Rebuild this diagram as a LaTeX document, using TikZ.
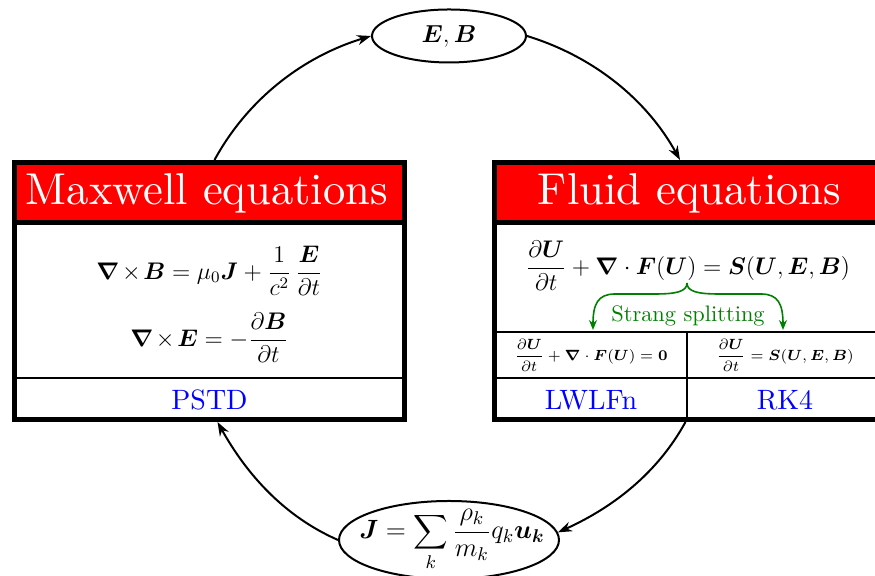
\documentclass[tikz,border=0pt]{standalone}
\usepackage{fix-cm}
\usepackage{amsmath,bm}
\usepackage{fontspec}
\setmainfont{lmroman10-regular.otf}
\usetikzlibrary{arrows.meta,shapes.geometric}
\newcommand{\tcross}{\mathord{\mkern2mu\times\mkern2mu}}
\begin{document}
\begin{tikzpicture}[x=0.5pt,y=0.5pt,
  bigbox/.style={draw, line width=2.5pt, rectangle, inner sep=0pt, minimum width=195pt, minimum height=128.5pt},
  hdr/.style={text=white, font=\fontsize{22.3}{26}\selectfont, anchor=base, inner sep=0pt},
  eqn/.style={font=\fontsize{12}{14}\selectfont, inner sep=0pt},
  method/.style={text=blue, font=\fontsize{14}{17}\selectfont, anchor=base, inner sep=0pt},
  subeqn/.style={font=\fontsize{7.4}{9}\selectfont, inner sep=0pt},
  thinrule/.style={line width=1pt},
  thickrule/.style={line width=2.5pt},
  oval/.style={draw, ellipse, line width=1pt, inner sep=0pt},
  link/.style={line width=1pt, -{Stealth[length=7pt,width=5pt]}, looseness=0.9},
  split/.style={draw=green!50!black, line width=0.8pt, -{Stealth[length=5pt,width=4pt]}},
  splittext/.style={text=green!50!black, font=\fontsize{11.2}{13}\selectfont, anchor=base, inner sep=0pt}]
\useasboundingbox (0,0) rectangle (875,576);
\clip (0,0) rectangle (875,576);

% ---------------- Maxwell box ----------------
\fill[red] (14.5,413.5) rectangle (404.5,353.5);
\node[bigbox] (mx) at (209.5,285) {};
\draw[thickrule] (mx.west |- 0,353.5) -- (mx.east |- 0,353.5);
\draw[thinrule] (mx.west |- 0,198) -- (mx.east |- 0,198);
\node[hdr] (mxt) at (207,371) {Maxwell equations};
\node[eqn] (mxa) at (209.5,305) {$\displaystyle \bm{\nabla}\tcross\bm{B} = \mu_0\bm{J} + \frac{1}{c^2}\,\frac{\bm{E}}{\partial t}$};
\node[eqn] (mxb) at (209.5,238) {$\displaystyle \bm{\nabla}\tcross\bm{E} = -\frac{\partial\bm{B}}{\partial t}$};
\node[method] (pstd) at (209.5,166) {PSTD};

% ---------------- Fluid box ----------------
\fill[red] (494.5,413.5) rectangle (884.5,353.5);
\node[bigbox] (fl) at (689.5,285) {};
\draw[thickrule] (fl.west |- 0,353.5) -- (fl.east |- 0,353.5);
\draw[thinrule] (fl.west |- 0,244) -- (fl.east |- 0,244);
\draw[thinrule] (fl.west |- 0,198) -- (fl.east |- 0,198);
\coordinate (divtop) at (687,244);
\draw[thinrule] (divtop) -- (divtop |- fl.south);
\node[hdr] (flt) at (689.5,371) {Fluid equations};
\node[eqn] (fla) at (688,310) {$\displaystyle \frac{\partial\bm{U}}{\partial t} + \bm{\nabla}\cdot\bm{F}(\bm{U}) = \bm{S}(\bm{U},\bm{E},\bm{B})$};
\node[subeqn] (flb) at (591,220.5) {$\displaystyle \frac{\partial\bm{U}}{\partial t} + \bm{\nabla}\cdot\bm{F}(\bm{U}) = \bm{0}$};
\node[subeqn] (flc) at (785,220.5) {$\displaystyle \frac{\partial\bm{U}}{\partial t} = \bm{S}(\bm{U},\bm{E},\bm{B})$};
\node[method] (lw) at (591,166) {LWLFn};
\node[method] (rk) at (785,166) {RK4};

% Strang splitting brace
\coordinate (peak) at (687,293);
\coordinate (ltip) at (593,246);
\coordinate (rtip) at (783,246);
\draw[split] (peak) .. controls (687,284) and (675,282) .. (655,282) -- (615,282) .. controls (598,282) and (593,272) .. (ltip);
\draw[split] (peak) .. controls (687,284) and (699,282) .. (719,282) -- (761,282) .. controls (778,282) and (783,272) .. (rtip);
\node[splittext] (strang) at (688,254) {Strang splitting};

% ---------------- Ellipses ----------------
\node[oval, minimum width=77pt, minimum height=26.5pt, font=\fontsize{12.3}{14}\selectfont] (eb) at (449,540) {$\bm{E},\bm{B}$};
\node[oval, minimum width=110pt, minimum height=39pt] (jn) at (449,36) {};
\node[inner sep=0pt, font=\fontsize{13.2}{15}\selectfont] (jtext) at (452,36) {$\displaystyle \bm{J} = \sum_k \frac{\rho_k}{m_k} q_k \bm{u_k}$};

% ---------------- Connectors ----------------
\draw[link] ([xshift=2.5pt]mx.north) to[out=61.4,in=196.9] (eb.west);
\draw[link] (eb.east) to[out=-17.1,in=118.9] ([xshift=-4.75pt]fl.north);
\draw[link] ([xshift=-2pt]fl.south) to[out=-118.7,in=24.4] (jn.4);
\draw[link] (jn.west) to[out=156.3,in=299.2] ([xshift=4pt]mx.south);
\end{tikzpicture}
\end{document}
